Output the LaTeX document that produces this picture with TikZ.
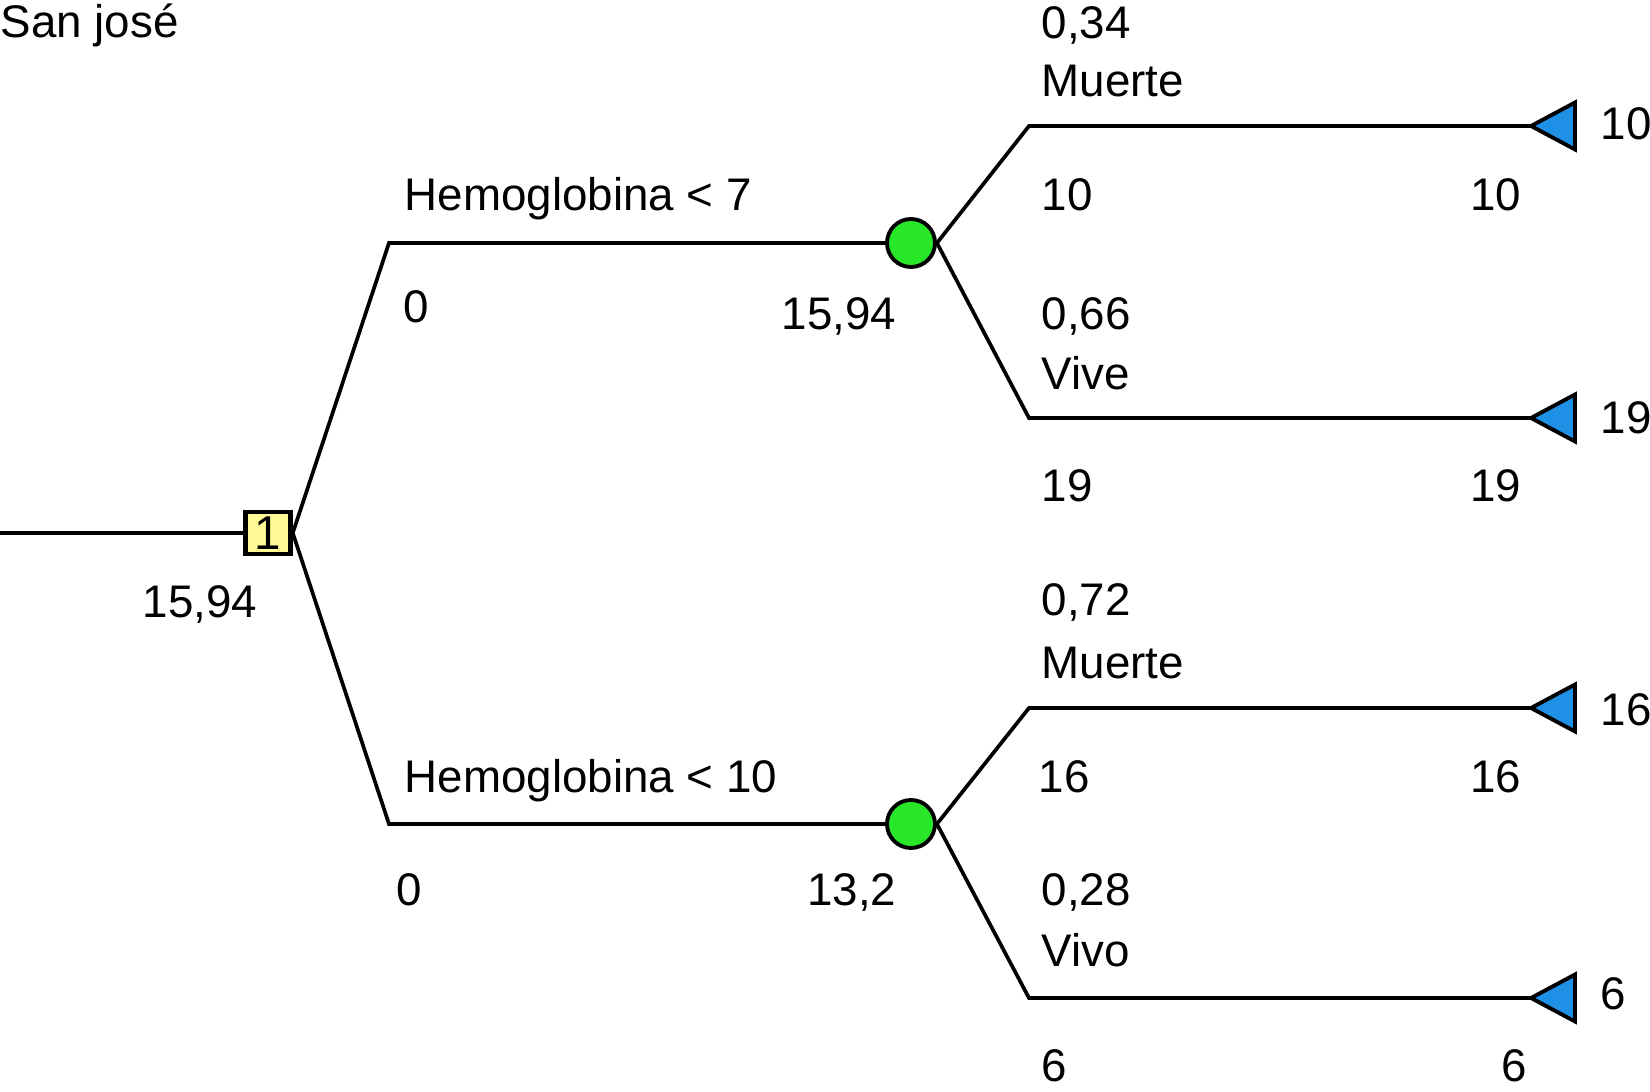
\documentclass[tikz,border=0pt]{standalone}
\usepackage{fontspec}
\setmainfont{Liberation Sans}
\definecolor{decfill}{RGB}{255,250,150}
\definecolor{chancefill}{RGB}{40,230,40}
\definecolor{termfill}{RGB}{30,144,230}
\tikzset{
  branch/.style={line width=1.05pt},
  lbl/.style={inner sep=0pt, font=\fontsize{13}{15}\selectfont},
  decision/.style={draw, line width=1.3pt, fill=decfill, minimum width=0.45cm, minimum height=0.42cm, inner sep=0pt, font=\fontsize{13.5}{15}\selectfont},
  chance/.style={draw, circle, line width=1.1pt, fill=chancefill, minimum size=0.48cm, inner sep=0pt},
  terminal/.style={draw, line width=1.1pt, fill=termfill, line join=miter},
}
\begin{document}
\begin{tikzpicture}[x=0.01cm, y=-0.01cm]
    \useasboundingbox (0,0) rectangle (1650,1092);
    \coordinate (root) at (0,533);
    \node[decision] (d1) at (268,533) {1};
    \node[chance] (c1) at (911,243) {};
    \node[chance] (c2) at (911,824) {};
    \coordinate (a1) at (389,243);
    \coordinate (a2) at (389,824);
    \coordinate (b1) at (1029,126);
    \coordinate (b2) at (1029,418);
    \coordinate (b3) at (1029,708);
    \coordinate (b4) at (1029,998);
    \coordinate (t1) at (1531,126);
    \coordinate (t2) at (1531,418);
    \coordinate (t3) at (1531,708);
    \coordinate (t4) at (1531,998);
    \draw[branch] (root) -- (d1);
    \draw[branch] (d1.east) -- (a1) -- (c1);
    \draw[branch] (d1.east) -- (a2) -- (c2);
    \draw[branch] (c1.east) -- (b1) -- (t1);
    \draw[branch] (c1.east) -- (b2) -- (t2);
    \draw[branch] (c2.east) -- (b3) -- (t3);
    \draw[branch] (c2.east) -- (b4) -- (t4);
    \foreach \t in {t1,t2,t3,t4}
        \draw[terminal] (\t) -- ++(44,-23.5) -- ++(0,47) -- cycle;
    \node[lbl, anchor=base west] (title) at (0,38) {San josé};
    \node[lbl, anchor=base] (v0) at (200,618) {15,94};
    \node[lbl, anchor=base west] (h1) at (404,211) {Hemoglobina < 7};
    \node[lbl, anchor=base] (k1) at (416,323) {0};
    \node[lbl, anchor=base east] (v1) at (897,330) {15,94};
    \node[lbl, anchor=base west] (h2) at (404,793) {Hemoglobina < 10};
    \node[lbl, anchor=base] (k2) at (409,906) {0};
    \node[lbl, anchor=base east] (v2) at (897,906) {13,2};
    \node[lbl, anchor=base west] (p1) at (1041,39) {0,34};
    \node[lbl, anchor=base west] (n1) at (1041,97) {Muerte};
    \node[lbl, anchor=base west] (r1) at (1041,211) {10};
    \node[lbl, anchor=base east] (s1) at (1522,211) {10};
    \node[lbl, anchor=base west] (e1) at (1600,140) {10};
    \node[lbl, anchor=base west] (p2) at (1041,330) {0,66};
    \node[lbl, anchor=base west] (n2) at (1041,390) {Vive};
    \node[lbl, anchor=base west] (r2) at (1041,502) {19};
    \node[lbl, anchor=base east] (s2) at (1522,502) {19};
    \node[lbl, anchor=base west] (e2) at (1600,434) {19};
    \node[lbl, anchor=base west] (p3) at (1041,616) {0,72};
    \node[lbl, anchor=base west] (n3) at (1041,679) {Muerte};
    \node[lbl, anchor=base west] (r3) at (1038,793) {16};
    \node[lbl, anchor=base east] (s3) at (1522,793) {16};
    \node[lbl, anchor=base west] (e3) at (1600,726) {16};
    \node[lbl, anchor=base west] (p4) at (1041,906) {0,28};
    \node[lbl, anchor=base west] (n4) at (1041,967) {Vivo};
    \node[lbl, anchor=base west] (r4) at (1041,1082) {6};
    \node[lbl, anchor=base east] (s4) at (1528,1082) {6};
    \node[lbl, anchor=base west] (e4) at (1600,1010) {6};
\end{tikzpicture}
\end{document}
